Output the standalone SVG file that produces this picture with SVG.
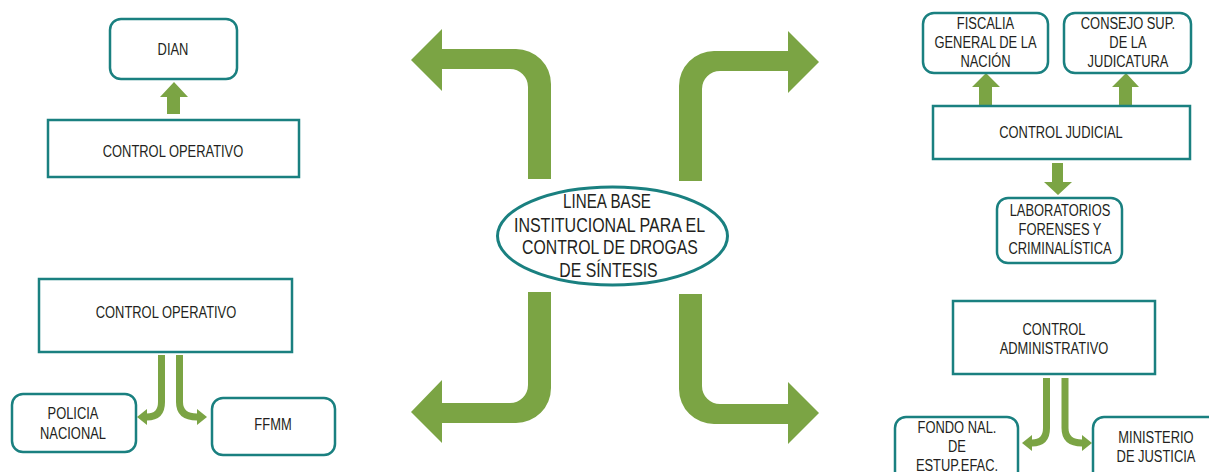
<svg xmlns="http://www.w3.org/2000/svg" width="1209" height="472" viewBox="0 0 1209 472">
<style>
.box{fill:#fff;stroke:#1a8080;stroke-width:2.5}
.big{fill:#7ba444}
.thin{fill:none;stroke:#7ba444;stroke-width:7}
.ah{fill:#7ba444}
text{font-family:"Liberation Sans",Arial,sans-serif;font-size:17px;fill:#231f20;text-anchor:middle}
.t20{font-size:20px}
</style>
<rect width="1209" height="472" fill="#fff"/>
<g id="connectors">
<path class="big" d="M 528 179 L 528 87 A 18 18 0 0 0 510 69 L 442 69 L 442 91 L 411 60 L 442 29 L 442 49 L 516 49 A 35 35 0 0 1 551 84 L 551 179 Z"/>
<path class="big" d="M 702 181 L 702 89 A 18 18 0 0 1 720 71 L 788 71 L 788 93 L 819 62 L 788 31 L 788 51 L 714 51 A 35 35 0 0 0 679 86 L 679 181 Z"/>
<path class="big" d="M 528 292 L 528 385 A 18 18 0 0 1 510 403 L 442 403 L 442 380 L 411 412 L 442 443 L 442 423 L 516 423 A 35 35 0 0 0 551 388 L 551 292 Z"/>
<path class="big" d="M 702 294 L 702 386 A 18 18 0 0 0 720 404 L 788 404 L 788 382 L 819 413 L 788 444 L 788 424 L 714 424 A 35 35 0 0 1 679 389 L 679 294 Z"/>
<polygon class="ah" points="167,114 167,97 160,97 174,82 188,97 180,97 180,114"/>
<polygon class="ah" points="979,106 979,87 972,87 986,73 1000,87 992,87 992,106"/>
<polygon class="ah" points="1119,106 1119,87 1112,87 1126,73 1139,87 1132,87 1132,106"/>
<polygon class="ah" points="1052,163 1063,163 1063,182 1072,182 1058,195 1044,182 1052,182"/>
<path class="thin" d="M 161.5 355 L 161.5 402 Q 161.5 417 147 417"/>
<polygon class="ah" points="147,409 147,425 137,417"/>
<path class="thin" d="M 179.5 355 L 179.5 402 Q 179.5 417 197 417"/>
<polygon class="ah" points="197,409 197,425 207,417"/>
<path class="thin" d="M 1046.5 378 L 1046.5 428 Q 1046.5 443 1032 443"/>
<polygon class="ah" points="1032,435 1032,451 1022,443"/>
<path class="thin" d="M 1065 378 L 1065 428 Q 1065 443 1082 443"/>
<polygon class="ah" points="1082,435 1082,451 1092,443"/>
</g>
<g id="center">
<ellipse cx="612.5" cy="236" rx="115" ry="49" fill="#fff" stroke="#1a8080" stroke-width="3"/>
<text class="t20" transform="translate(607,208) scale(0.76,1)">LINEA BASE</text>
<text class="t20" transform="translate(609.5,232) scale(0.8,1)">INSTITUCIONAL PARA EL</text>
<text class="t20" transform="translate(610,254) scale(0.79,1)">CONTROL DE DROGAS</text>
<text class="t20" transform="translate(608.5,277) scale(0.79,1)">DE SÍNTESIS</text>
</g>
<g id="dian">
<rect class="box" x="110" y="19" width="127" height="60" rx="11"/>
<text transform="translate(173,55) scale(0.76,1)">DIAN</text>
</g>
<g id="control-operativo-1">
<rect class="box" x="48" y="120" width="251" height="57"/>
<text transform="translate(173,157) scale(0.76,1)">CONTROL OPERATIVO</text>
</g>
<g id="control-operativo-2">
<rect class="box" x="39" y="279" width="253" height="73"/>
<text transform="translate(166,318) scale(0.76,1)">CONTROL OPERATIVO</text>
</g>
<g id="policia">
<rect class="box" x="12" y="394" width="124" height="58" rx="11"/>
<text transform="translate(73,419) scale(0.76,1)">POLICIA</text>
<text transform="translate(73,439) scale(0.76,1)">NACIONAL</text>
</g>
<g id="ffmm">
<rect class="box" x="212" y="398" width="123" height="57" rx="11"/>
<text transform="translate(273,430) scale(0.76,1)">FFMM</text>
</g>
<g id="fiscalia">
<rect class="box" x="923" y="13" width="125" height="60" rx="11"/>
<text transform="translate(985.5,29) scale(0.76,1)">FISCALIA</text>
<text transform="translate(985.5,48) scale(0.76,1)">GENERAL DE LA</text>
<text transform="translate(985.5,67) scale(0.76,1)">NACIÓN</text>
</g>
<g id="consejo">
<rect class="box" x="1064" y="13" width="127" height="60" rx="11"/>
<text transform="translate(1128,29) scale(0.76,1)">CONSEJO SUP.</text>
<text transform="translate(1128,48) scale(0.76,1)">DE LA</text>
<text transform="translate(1128,67) scale(0.76,1)">JUDICATURA</text>
</g>
<g id="control-judicial">
<rect class="box" x="933" y="106" width="257" height="53"/>
<text transform="translate(1061,138) scale(0.76,1)">CONTROL JUDICIAL</text>
</g>
<g id="laboratorios">
<rect class="box" x="997" y="198" width="125" height="65" rx="11"/>
<text transform="translate(1060,216) scale(0.76,1)">LABORATORIOS</text>
<text transform="translate(1060,235) scale(0.76,1)">FORENSES Y</text>
<text transform="translate(1060,254) scale(0.76,1)">CRIMINALÍSTICA</text>
</g>
<g id="control-administrativo">
<rect class="box" x="953" y="301" width="202" height="73"/>
<text transform="translate(1054,335) scale(0.76,1)">CONTROL</text>
<text transform="translate(1054,354) scale(0.76,1)">ADMINISTRATIVO</text>
</g>
<g id="fondo">
<rect class="box" x="895" y="417" width="123" height="70" rx="11"/>
<text transform="translate(957,433) scale(0.76,1)">FONDO NAL.</text>
<text transform="translate(957,452) scale(0.76,1)">DE</text>
<text transform="translate(957,471) scale(0.76,1)">ESTUP.EFAC.</text>
</g>
<g id="ministerio">
<rect class="box" x="1093" y="417" width="130" height="70" rx="11"/>
<text transform="translate(1156,443) scale(0.76,1)">MINISTERIO</text>
<text transform="translate(1156,462) scale(0.76,1)">DE JUSTICIA</text>
</g>
</svg>
